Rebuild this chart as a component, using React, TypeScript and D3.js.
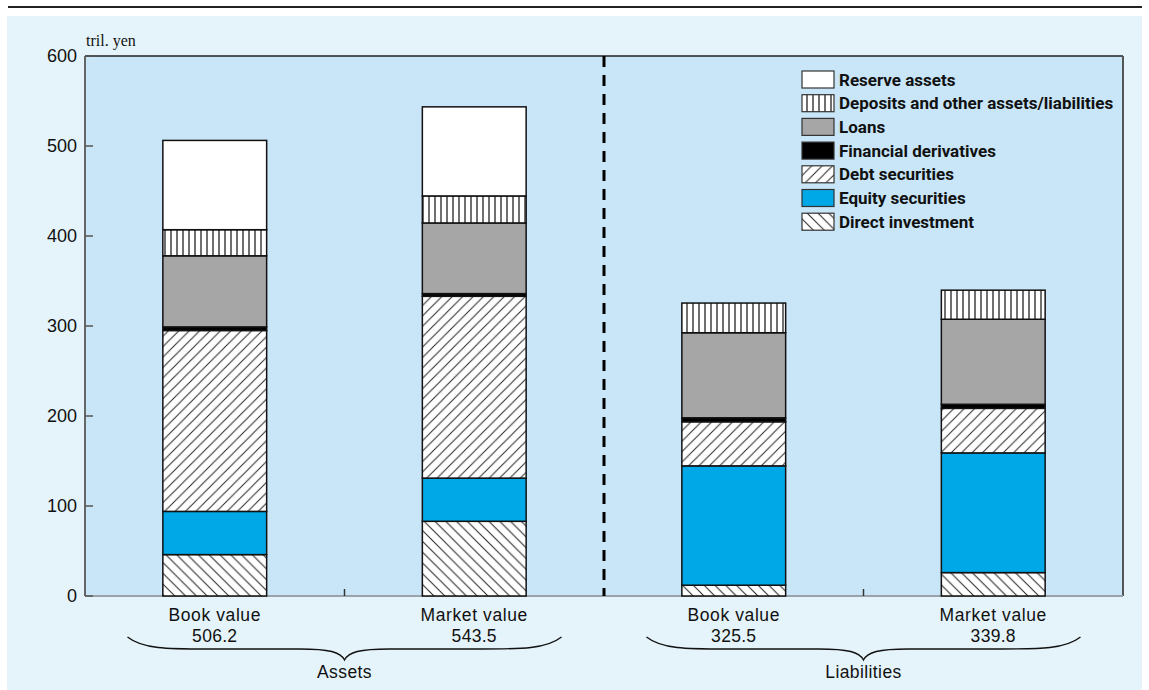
import React from "react";
import * as d3 from "d3";

const categories = ["Book value", "Market value", "Book value", "Market value"];
const totalLabels = ["506.2", "543.5", "325.5", "339.8"];
const groups = ["Assets", "Liabilities"];

const directInvestment = [46, 83, 12, 26];
const equitySecurities = [48, 48, 132.6, 133];
const debtSecurities = [201, 202, 49, 49.5];
const financialDerivatives = [4, 3, 4.4, 4.5];
const loans = [79, 78.5, 94.5, 94.5];
const deposits = [29, 30, 33, 32.3];
const reserveAssets = [99.2, 99, 0, 0];

const seriesNames = [
  "Direct investment",
  "Equity securities",
  "Debt securities",
  "Financial derivatives",
  "Loans",
  "Deposits and other assets/liabilities",
  "Reserve assets",
];
const seriesValues = [
  directInvestment,
  equitySecurities,
  debtSecurities,
  financialDerivatives,
  loans,
  deposits,
  reserveAssets,
];
const yTicks = [0, 100, 200, 300, 400, 500, 600];

const fills: Record<string, string> = {
  "Direct investment": "url(#hatchBack)",
  "Equity securities": "#00a8e8",
  "Debt securities": "url(#hatchFwd)",
  "Financial derivatives": "#000000",
  Loans: "#a6a6a6",
  "Deposits and other assets/liabilities": "url(#vlines)",
  "Reserve assets": "#ffffff",
};

const W = 1149;
const H = 690;
const M = { left: 85, right: 1123, top: 56, bottom: 596 };

export default function App() {
  const x = d3
    .scaleBand<number>()
    .domain(d3.range(categories.length))
    .range([M.left, M.right])
    .paddingInner(0.6)
    .paddingOuter(0.3);
  const y = d3.scaleLinear().domain([0, 600]).range([M.bottom, M.top]);

  const table = categories.map((c, i) => {
    const row: Record<string, number> = { idx: i };
    seriesNames.forEach((s, k) => (row[s] = seriesValues[k][i]));
    return row;
  });
  const stacked = d3.stack<Record<string, number>>().keys(seriesNames)(table);

  const bw = x.bandwidth();
  const center = (i: number) => (x(i) as number) + bw / 2;
  const groupCenters = [
    (center(0) + center(1)) / 2,
    (center(2) + center(3)) / 2,
  ];
  const divider = M.left + (M.right - M.left) / 2;

  const brace = (c: number) => {
    const half = 217;
    const x0 = c - half;
    const x1 = c + half;
    const yTop = 637;
    const yMid = 649;
    const yTip = 660;
    const p = d3.path();
    p.moveTo(x0, yTop);
    p.bezierCurveTo(x0 + 15, yMid, x0 + 40, yMid, x0 + 80, yMid);
    p.lineTo(c - 45, yMid);
    p.bezierCurveTo(c - 15, yMid, c - 4, yMid + 3, c, yTip);
    p.bezierCurveTo(c + 4, yMid + 3, c + 15, yMid, c + 45, yMid);
    p.lineTo(x1 - 80, yMid);
    p.bezierCurveTo(x1 - 40, yMid, x1 - 15, yMid, x1, yTop);
    return p.toString();
  };

  const legendOrder = [...seriesNames].reverse();
  const font = "'Liberation Sans', Arial, sans-serif";

  return (
    <svg
      width={W}
      height={H}
      style={{ position: "absolute", left: 0, top: 0, background: "#ffffff" }}
    >
      <defs>
        <pattern id="hatchFwd" patternUnits="userSpaceOnUse" width={10.4} height={10.4}>
          <rect width={10.4} height={10.4} fill="#fff" />
          <path
            d="M0,10.4 L10.4,0 M-2.6,2.6 L2.6,-2.6 M7.8,13 L13,7.8"
            stroke="#222"
            strokeWidth={1}
          />
        </pattern>
        <pattern id="hatchBack" patternUnits="userSpaceOnUse" width={10.8} height={10.8}>
          <rect width={10.8} height={10.8} fill="#fff" />
          <path
            d="M0,0 L10.8,10.8 M-2.7,8.1 L2.7,13.5 M8.1,-2.7 L13.5,2.7"
            stroke="#222"
            strokeWidth={1}
          />
        </pattern>
        <pattern id="vlines" patternUnits="userSpaceOnUse" width={6} height={6}>
          <rect width={6} height={6} fill="#fff" />
          <line x1={3} y1={0} x2={3} y2={6} stroke="#222" strokeWidth={1.3} />
        </pattern>
      </defs>

      {/* top rule */}
      <line x1={8} x2={1142} y1={7} y2={7} stroke="#222" strokeWidth={2} />

      {/* outer panel */}
      <rect x={7} y={16} width={1135} height={674} fill="#e5f4fa" />

      {/* plot background */}
      <rect
        x={M.left}
        y={M.top}
        width={M.right - M.left}
        height={M.bottom - M.top}
        fill="#c8e6f8"
      />
      <line x1={M.left} x2={M.right} y1={M.top} y2={M.top} stroke="#222" strokeWidth={1.5} />
      <line x1={M.right} x2={M.right} y1={M.top} y2={M.bottom} stroke="#555" strokeWidth={2} />
      <line x1={M.left} x2={M.right} y1={M.bottom} y2={M.bottom} stroke="#9aa3aa" strokeWidth={2} />
      <line x1={M.left} x2={M.left} y1={M.top} y2={M.bottom} stroke="#666" strokeWidth={2} />

      {/* y ticks */}
      {yTicks.map((t) => (
        <g key={t}>
          <line x1={M.left} x2={M.left + 8} y1={y(t)} y2={y(t)} stroke="#555" strokeWidth={1.5} />
          <text
            x={M.left - 8}
            y={y(t)}
            dy="0.36em"
            textAnchor="end"
            fontFamily={font}
            fontSize={18}
            fill="#111"
          >
            {t}
          </text>
        </g>
      ))}
      <text x={86} y={46} fontFamily="'Liberation Serif', 'Times New Roman', serif" fontSize={16} fill="#111">
        tril. yen
      </text>

      {/* x ticks */}
      {groupCenters.map((gx, i) => (
        <line key={i} x1={gx} x2={gx} y1={M.bottom} y2={M.bottom - 7} stroke="#333" strokeWidth={1.5} />
      ))}

      {/* divider */}
      <line
        x1={divider}
        x2={divider}
        y1={M.top}
        y2={M.bottom}
        stroke="#000"
        strokeWidth={3}
        strokeDasharray="11 8"
      />

      {/* bars */}
      {stacked.map((layer) => (
        <g key={layer.key}>
          {layer.map((d, i) =>
            d[1] - d[0] > 0 ? (
              <rect
                key={i}
                x={x(i)}
                y={y(d[1])}
                width={bw}
                height={y(d[0]) - y(d[1])}
                fill={fills[layer.key]}
                stroke="#111"
                strokeWidth={1.5}
              />
            ) : null
          )}
        </g>
      ))}

      {/* category labels */}
      {categories.map((c, i) => (
        <g key={i}>
          <text
            x={center(i)}
            y={620.5}
            textAnchor="middle"
            fontFamily={font}
            fontSize={17.5}
            letterSpacing={0.6}
            fill="#111"
          >
            {c}
          </text>
          <text
            x={center(i)}
            y={641.5}
            textAnchor="middle"
            fontFamily={font}
            fontSize={17.5}
            letterSpacing={0.3}
            fill="#111"
          >
            {totalLabels[i]}
          </text>
        </g>
      ))}

      {/* braces */}
      {groupCenters.map((gx, i) => (
        <g key={i}>
          <path d={brace(gx)} fill="none" stroke="#111" strokeWidth={1.3} />
          <text
            x={gx}
            y={678}
            textAnchor="middle"
            fontFamily={font}
            fontSize={17.5}
            letterSpacing={0.4}
            fill="#111"
          >
            {groups[i]}
          </text>
        </g>
      ))}

      {/* legend */}
      {legendOrder.map((s, k) => {
        const ly = 71 + k * 23.7;
        return (
          <g key={s}>
            <rect x={802} y={ly} width={32} height={17} fill={fills[s]} stroke="#333" strokeWidth={1.2} />
            <text
              x={839}
              y={ly + 14.5}
              fontFamily="Roboto, 'Liberation Sans Narrow', Arial, sans-serif"
              fontWeight={700}
              fontSize={17}
              fill="#111"
            >
              {s}
            </text>
          </g>
        );
      })}
    </svg>
  );
}
